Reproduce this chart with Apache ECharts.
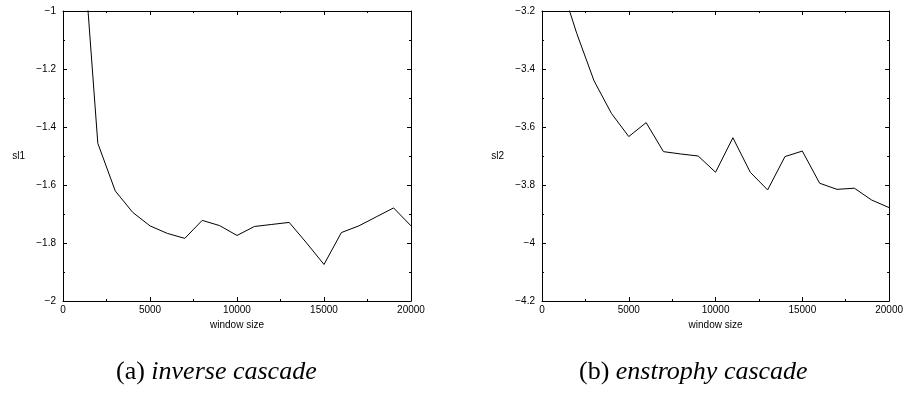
<!DOCTYPE html>
<html>
<head>
<meta charset="utf-8">
<script src="https://cdn.jsdelivr.net/npm/echarts@6/dist/echarts.min.js"></script>
<style>
  html, body { margin: 0; padding: 0; background: #fff; }
  #main { width: 906px; height: 393px; }
</style>
</head>
<body>
<div id="main"></div>
<script>
// window sizes shared by both panels
const windowSizes = [1000, 2000, 3000, 4000, 5000, 6000, 7000, 8000, 9000, 10000,
  11000, 12000, 13000, 14000, 15000, 16000, 17000, 18000, 19000, 20000]

// (a) inverse cascade, slope sl1
const sl1Values = [-0.643, -1.456, -1.62, -1.694, -1.741, -1.767, -1.784, -1.722, -1.74, -1.774,
  -1.743, -1.736, -1.729, -1.8, -1.874, -1.764, -1.741, -1.71, -1.679, -1.741]

// (b) enstrophy cascade, slope sl2
const sl2Values = [-3.09, -3.277, -3.441, -3.553, -3.633, -3.585, -3.685, -3.693, -3.7, -3.756,
  -3.637, -3.756, -3.817, -3.702, -3.683, -3.794, -3.815, -3.811, -3.852, -3.878]

const panels = [
  { yName: 'sl1', yMin: -2, yMax: -1, captionTag: '(a) ', captionText: 'inverse cascade' },
  { yName: 'sl2', yMin: -4.2, yMax: -3.2, captionTag: '(b) ', captionText: 'enstrophy cascade' }
]

const FONT = 'Liberation Sans, Arial, Helvetica, sans-serif'
const SERIF = 'Liberation Serif, Times New Roman, serif'

function fmtY (v) {
  return String(+(+v).toFixed(1)).replace('-', '\u2212')
}

function fmtX (v) {
  return String(Math.round(v))
}

const gridBoxes = [
  { left: 63, top: 11, width: 348, height: 290 },
  { left: 542, top: 11, width: 348, height: 290 }
]

const tickStyle = { show: true, inside: true, length: 4, lineStyle: { color: '#000', width: 1 } }
const minorStyle = { show: true, splitNumber: 2, length: 2, lineStyle: { color: '#000', width: 1 } }
const lineStyle = { show: true, onZero: false, lineStyle: { color: '#000', width: 1 } }

const xAxes = []
const yAxes = []
const series = []

panels.forEach((p, i) => {
  // bottom x axis with labels
  xAxes.push({
    gridIndex: i,
    type: 'value',
    position: 'bottom',
    min: 0,
    max: 20000,
    interval: 5000,
    name: 'window size',
    nameLocation: 'middle',
    nameGap: 18,
    nameTextStyle: { fontFamily: FONT, fontSize: 10, color: '#000' },
    axisLine: lineStyle,
    axisTick: tickStyle,
    minorTick: minorStyle,
    splitLine: { show: false },
    axisLabel: { margin: 4, fontFamily: FONT, fontSize: 10, color: '#000', formatter: fmtX }
  })
  // top mirror
  xAxes.push({
    gridIndex: i,
    type: 'value',
    position: 'top',
    min: 0,
    max: 20000,
    interval: 5000,
    axisLine: lineStyle,
    axisTick: tickStyle,
    minorTick: minorStyle,
    splitLine: { show: false },
    axisLabel: { show: false }
  })
  yAxes.push({
    gridIndex: i,
    type: 'value',
    position: 'left',
    min: p.yMin,
    max: p.yMax,
    interval: 0.2,
    name: p.yName,
    nameLocation: 'middle',
    nameRotate: 0,
    nameGap: 38,
    nameTextStyle: { fontFamily: FONT, fontSize: 10, color: '#000' },
    axisLine: lineStyle,
    axisTick: tickStyle,
    minorTick: minorStyle,
    splitLine: { show: false },
    axisLabel: { margin: 7, fontFamily: FONT, fontSize: 10, color: '#000', formatter: fmtY }
  })
  yAxes.push({
    gridIndex: i,
    type: 'value',
    position: 'right',
    min: p.yMin,
    max: p.yMax,
    interval: 0.2,
    axisLine: lineStyle,
    axisTick: tickStyle,
    minorTick: minorStyle,
    splitLine: { show: false },
    axisLabel: { show: false }
  })
})

const valueLists = [sl1Values, sl2Values]
valueLists.forEach((vals, i) => {
  series.push({
    type: 'line',
    xAxisIndex: i * 2,
    yAxisIndex: i * 2,
    data: windowSizes.map((x, k) => [x, vals[k]]),
    showSymbol: false,
    symbol: 'none',
    clip: true,
    lineStyle: { color: '#000', width: 1 },
    silent: true,
    animation: false
  })
})

// captions under each panel: roman tag + italic text
const captions = panels.map((p, i) => ({
  type: 'text',
  left: i === 0 ? 116 : 579,
  top: 359,
  style: {
    text: '{tag|' + p.captionTag + '}{it|' + p.captionText + '}',
    rich: {
      tag: { fontFamily: SERIF, fontSize: 26, fill: '#000' },
      it: { fontFamily: SERIF, fontSize: 26, fontStyle: 'italic', fill: '#000' }
    }
  }
}))

const chart = echarts.init(document.getElementById('main'))
chart.setOption({
  animation: false,
  backgroundColor: '#fff',
  grid: gridBoxes.map(g => Object.assign({ containLabel: false }, g)),
  xAxis: xAxes,
  yAxis: yAxes,
  series: series,
  graphic: captions
})
</script>
</body>
</html>
